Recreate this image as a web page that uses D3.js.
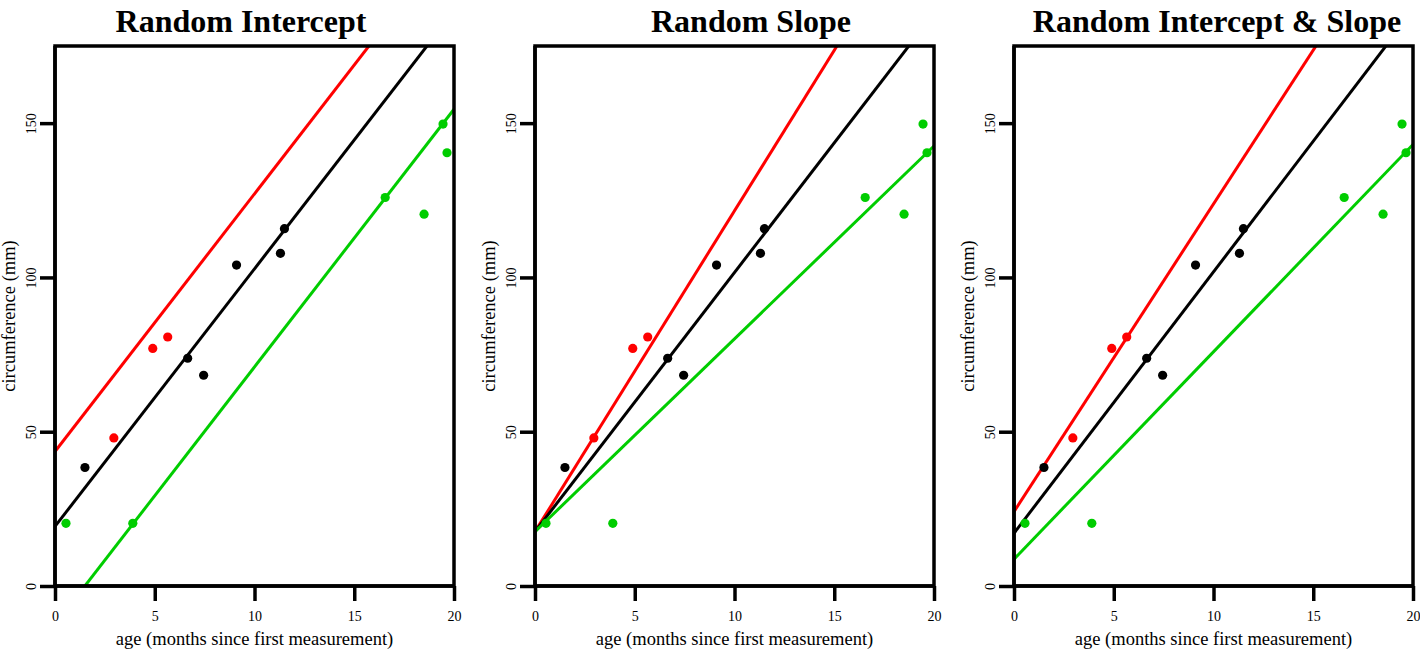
<!DOCTYPE html>
<html>
<head>
<meta charset="utf-8">
<script src="https://cdn.jsdelivr.net/npm/d3@7"></script>
<style>
  html, body { margin: 0; padding: 0; background: #fff; }
  svg { display: block; }
  text { font-family: "Liberation Serif", "Times New Roman", serif; fill: #000; }
</style>
</head>
<body>
<svg id="chart" width="1420" height="650"></svg>
<script>
// ---- data ----
const panelTitles = ["Random Intercept", "Random Slope", "Random Intercept & Slope"];
const xTicks = [0, 5, 10, 15, 20];
const yTicks = [0, 50, 100, 150];
const xLabel = "age (months since first measurement)";
const yLabel = "circumference (mm)";

const groupColors = ["#FF0000", "#000000", "#00CD00"]; // red, black, green

const ageRed = [2.95, 4.9, 5.65];
const circRed = [48, 77, 80.7];
const ageBlack = [1.5, 6.65, 7.45, 9.1, 11.3, 11.5];
const circBlack = [38.4, 73.8, 68.3, 104, 107.8, 115.8];
const ageGreen = [0.55, 3.9, 16.55, 18.5, 19.45, 19.65];
const circGreen = [20.3, 20.3, 125.9, 120.5, 149.7, 140.4];

// fitted lines per panel: [red, black, green]
const interceptRI = [43.6, 19.3, -12.5];
const slopeRI = [8.35, 8.35, 8.35];
const interceptRS = [17.6, 17.6, 17.6];
const slopeRS = [10.4, 8.4, 6.25];
const interceptRIS = [24.1, 17.1, 8.7];
const slopeRIS = [9.97, 8.47, 6.72];

// ---- layout ----
const svg = d3.select("#chart");
svg.append("rect").attr("width", 1420).attr("height", 650).attr("fill", "#fff");

const panelLefts = [55, 535, 1014];
const titleCenters = [241, 751, 1217];
const plotW = 399, plotTop = 46, plotBottom = 586;

const groups = [
  {ages: ageRed, circs: circRed},
  {ages: ageBlack, circs: circBlack},
  {ages: ageGreen, circs: circGreen}
];
const fits = [
  {b0: interceptRI, b1: slopeRI},
  {b0: interceptRS, b1: slopeRS},
  {b0: interceptRIS, b1: slopeRIS}
];

panelLefts.forEach((left, p) => {
  const x = d3.scaleLinear().domain([0, 20]).range([left, left + plotW]);
  const y = d3.scaleLinear().domain([0, 175]).range([plotBottom, plotTop]);
  const g = svg.append("g");

  const clipId = "clip" + p;
  svg.append("clipPath").attr("id", clipId)
    .append("rect").attr("x", left).attr("y", plotTop)
    .attr("width", plotW).attr("height", plotBottom - plotTop);

  // fitted lines
  const lineG = g.append("g").attr("clip-path", `url(#${clipId})`);
  [0, 1, 2].forEach(k => {
    const b0 = fits[p].b0[k], b1 = fits[p].b1[k];
    lineG.append("line")
      .attr("x1", x(0)).attr("y1", y(b0))
      .attr("x2", x(20)).attr("y2", y(b0 + b1 * 20))
      .attr("stroke", groupColors[k]).attr("stroke-width", 3);
  });

  // points
  groups.forEach((grp, k) => {
    g.append("g").selectAll("circle")
      .data(grp.ages.map((a, i) => [a, grp.circs[i]]))
      .join("circle")
      .attr("cx", d => x(d[0])).attr("cy", d => y(d[1]))
      .attr("r", 4.6).attr("fill", groupColors[k]);
  });

  // box
  g.append("rect")
    .attr("x", left).attr("y", plotTop)
    .attr("width", plotW).attr("height", plotBottom - plotTop)
    .attr("fill", "none").attr("stroke", "#000").attr("stroke-width", 3.5);

  // x axis
  const xAxis = d3.axisBottom(x).tickValues(xTicks).tickSize(15).tickPadding(10).tickFormat(d3.format("d"));
  const xg = g.append("g").attr("transform", `translate(0,${plotBottom})`).call(xAxis);
  xg.select(".domain").attr("stroke", "#000").attr("stroke-width", 3.5).attr("d", `M${x(0)},0H${x(20)}`);
  xg.selectAll(".tick line").attr("stroke", "#000").attr("stroke-width", 3.5);
  xg.selectAll(".tick text").attr("font-family", "Liberation Serif").attr("font-size", 14).attr("fill", "#000");

  // y axis
  const yAxis = d3.axisLeft(y).tickValues(yTicks).tickSize(15).tickFormat(d3.format("d"));
  const yg = g.append("g").attr("transform", `translate(${left},0)`).call(yAxis);
  yg.select(".domain").attr("stroke", "#000").attr("stroke-width", 3.5).attr("d", `M0,${y(0)}V${plotTop}`);
  yg.selectAll(".tick line").attr("stroke", "#000").attr("stroke-width", 3.5);
  yg.selectAll(".tick text")
    .attr("font-family", "Liberation Serif").attr("font-size", 14).attr("fill", "#000")
    .attr("x", null).attr("dy", null)
    .attr("text-anchor", "middle")
    .attr("transform", "translate(-19,0) rotate(-90)");

  // axis titles
  g.append("text")
    .attr("x", x(10)).attr("y", 645)
    .attr("text-anchor", "middle").attr("font-size", 18.5)
    .text(xLabel);
  g.append("text")
    .attr("transform", `translate(${left - 40},${(plotTop + plotBottom) / 2}) rotate(-90)`)
    .attr("text-anchor", "middle").attr("font-size", 18.5)
    .text(yLabel);

  // panel title
  g.append("text")
    .attr("x", titleCenters[p]).attr("y", 32)
    .attr("text-anchor", "middle").attr("font-size", 32).attr("font-weight", "bold")
    .text(panelTitles[p]);
});
</script>
</body>
</html>
